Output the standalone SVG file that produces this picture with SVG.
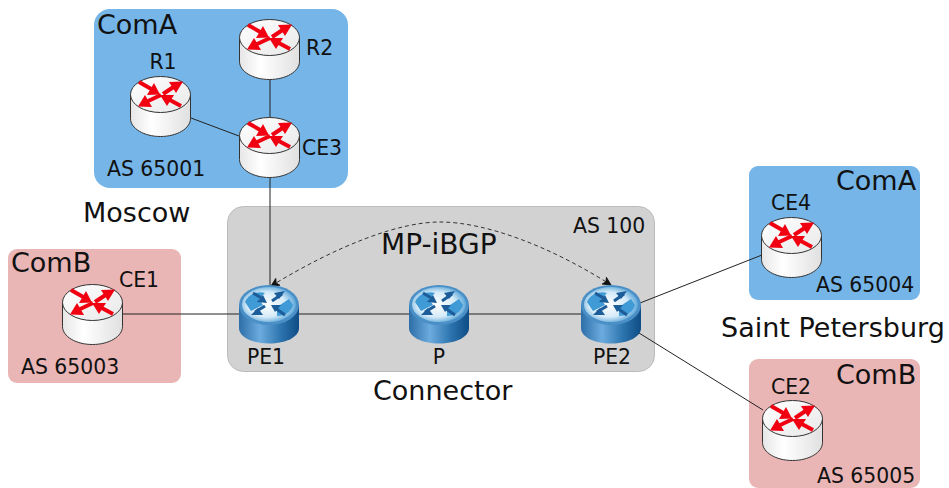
<svg xmlns="http://www.w3.org/2000/svg" width="949" height="488" viewBox="0 0 949 488">
<style>
text{font-family:"DejaVu Sans",Verdana,sans-serif;fill:#111}
.s{font-size:20.400px}.m{font-size:27px}
.a{fill:#75b5e8}.b{fill:#eab5b5}.g{fill:#d2d2d2;stroke:#bbb;stroke-width:1}
.l{stroke:#222;stroke-width:1;fill:none}
</style>
<defs>
<linearGradient id="wb" x1="0" x2="1" y1="0" y2="0"><stop offset="0" stop-color="#e6e6e6"/><stop offset=".35" stop-color="#fff"/><stop offset="1" stop-color="#e0e0e0"/></linearGradient>
<linearGradient id="wt" x1="0" x2="1" y1="0" y2="1"><stop offset="0" stop-color="#fff"/><stop offset="1" stop-color="#e8e8e8"/></linearGradient>
<linearGradient id="bb" x1="0" x2="1" y1="0" y2="0"><stop offset="0" stop-color="#2d6ea8"/><stop offset=".35" stop-color="#6cabde"/><stop offset=".7" stop-color="#2c74ae"/><stop offset="1" stop-color="#0f4c85"/></linearGradient>
<radialGradient id="bt" cx=".45" cy=".5" r=".6"><stop offset="0" stop-color="#fff"/><stop offset=".6" stop-color="#d5eaf8"/><stop offset="1" stop-color="#3d95d0"/></radialGradient>
<symbol id="wr" viewBox="0 0 61 61" width="61" height="61" overflow="visible">
<path d="M.5 18.500 V42.500 C.5 52.500 14 60.500 30.500 60.500 S60.500 52.500 60.500 42.500 V18.500 Z" fill="url(#wb)" stroke="#333" stroke-width="1"/>
<ellipse cx="30.500" cy="18.500" rx="30" ry="18" fill="url(#wt)" stroke="#333" stroke-width="1"/>
<g fill="#f00010" stroke="#f00010">
<path d="M9 6 L23 14" stroke-width="4"/><path d="M30 18.500 L17 19 L24 7Z" stroke="none"/>
<path d="M33 18 L45 10" stroke-width="4"/><path d="M53 5.500 L46 17 L39 6Z" stroke="none"/>
<path d="M31 19 L16 26" stroke-width="4"/><path d="M8 30.500 L22 31 L15 19Z" stroke="none"/>
<path d="M51 30 L38 23" stroke-width="4"/><path d="M30 19 L44 19 L37 30Z" stroke="none"/>
</g>
</symbol>
<symbol id="br" viewBox="0 0 60 59" width="60" height="59" overflow="visible">
<path d="M0 20 V43 C0 52 13 58.500 30 58.500 S60 52 60 43 V20 Z" fill="url(#bb)"/>
<ellipse cx="30" cy="20" rx="30" ry="20" fill="#4a8fc6"/>
<ellipse cx="30" cy="19.500" rx="27" ry="17.500" fill="url(#bt)"/>
<path d="M6 17 C10 8 20 6 26 8 L20 14 L24 20 L12 26Z M38 22 L50 14 L54 20 C52 28 44 31 38 31Z" fill="#3f9ad6"/>
<g fill="#1c5c98" stroke="#1c5c98">
<path d="M14 8 L24 14" stroke-width="3"/><path d="M28 18 L18 17 L24 10Z" stroke="none"/>
<path d="M33 16 L43 9" stroke-width="3"/><path d="M46 6 L35 8 L40 14Z" stroke="none"/>
<path d="M26 21 L16 27" stroke-width="3"/><path d="M12 30 L24 30 L19 23Z" stroke="none"/>
<path d="M46 30 L36 23" stroke-width="3"/><path d="M32 20 L42 20 L36 27Z" stroke="none"/>
</g>
</symbol>
<marker id="ah" viewBox="0 0 10 10" refX="9" refY="5" markerWidth="10" markerHeight="10" orient="auto-start-reverse" markerUnits="userSpaceOnUse"><path d="M1 1 L9 5 L1 9 L3 5Z" fill="#111" stroke="#111" stroke-width=".8"/></marker>
</defs>
<rect width="949" height="488" fill="#fff"/>
<g id="panels">
<rect id="moscow-area" class="a" x="94" y="9" width="254" height="179" rx="16"/>
<rect id="connector-area" class="g" x="227.500" y="206.500" width="427" height="165" rx="16"/>
<rect id="comb-left-area" class="b" x="8" y="249" width="173" height="134" rx="9"/>
<rect id="coma-right-area" class="a" x="749" y="166" width="171" height="134" rx="9"/>
<rect id="comb-right-area" class="b" x="749" y="359" width="171" height="129" rx="9"/>
</g>
<g id="connectors">
<path class="l" d="M270 79V118M191 118L239 136M270 178V285M122 314H240M299 314H409M468 314H582M640 303L762 255M639 333L763 410"/>
<path d="M271 286 C340 244 400 222 440 222 C485 222 550 246 611 285" fill="none" stroke="#333" stroke-width="1" stroke-dasharray="4 3" marker-start="url(#ah)" marker-end="url(#ah)"/>
</g>
<g id="R1"><use href="#wr" x="130" y="76"/><text class="s" x="163" y="69" text-anchor="middle">R1</text></g>
<g id="R2"><use href="#wr" x="239" y="19"/><text class="s" x="306" y="55">R2</text></g>
<g id="CE3"><use href="#wr" x="239" y="117"/><text class="s" x="302" y="155">CE3</text></g>
<g id="CE1"><use href="#wr" x="62" y="284"/><text class="s" x="119" y="287">CE1</text></g>
<g id="CE4"><use href="#wr" x="761" y="217"/><text class="s" x="771" y="210">CE4</text></g>
<g id="CE2"><use href="#wr" x="762" y="400"/><text class="s" x="771" y="394">CE2</text></g>
<g id="PE1"><use href="#br" x="239" y="285"/><text class="s" x="266" y="364" text-anchor="middle">PE1</text></g>
<g id="P"><use href="#br" x="409" y="285"/><text class="s" x="439" y="364" text-anchor="middle">P</text></g>
<g id="PE2"><use href="#br" x="581" y="285"/><text class="s" x="612" y="364" text-anchor="middle">PE2</text></g>
<g id="labels">
<text class="m" x="97" y="34">ComA</text>
<text class="s" x="107" y="176">AS 65001</text>
<text class="m" x="83" y="222">Moscow</text>
<text class="m" x="381" y="254" style="font-size:28px">MP-iBGP</text>
<text class="s" x="573" y="233">AS 100</text>
<text class="m" x="11" y="272">ComB</text>
<text class="s" x="21" y="374">AS 65003</text>
<text class="m" x="373" y="400">Connector</text>
<text class="m" x="836" y="190">ComA</text>
<text class="s" x="816" y="292">AS 65004</text>
<text class="m" x="721" y="337">Saint Petersburg</text>
<text class="m" x="836" y="384">ComB</text>
<text class="s" x="817" y="483">AS 65005</text>
</g>
</svg>
